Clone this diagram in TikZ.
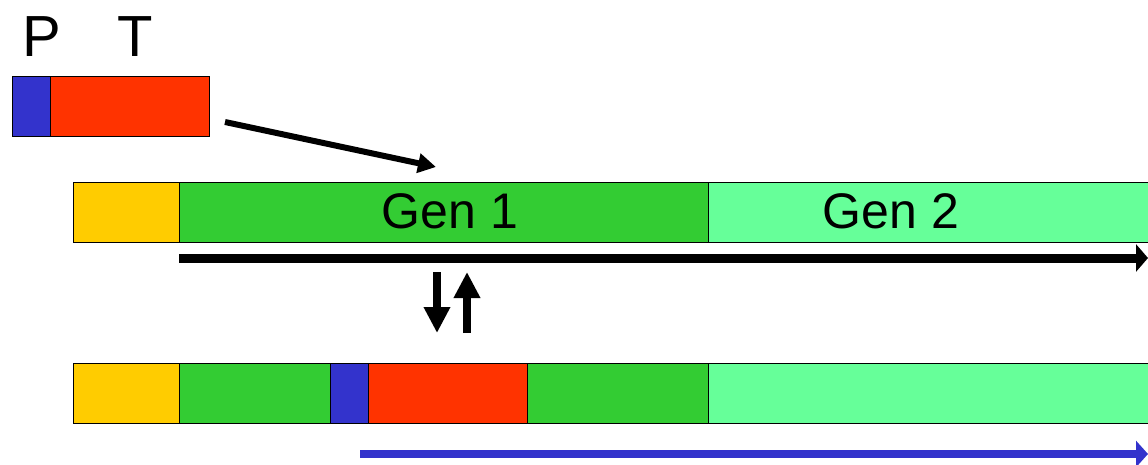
\documentclass[tikz,border=0pt]{standalone}
\usepackage{fontspec}
\setmainfont{Liberation Sans}
\usetikzlibrary{arrows.meta}
\definecolor{cyellow}{HTML}{FFCC00}
\definecolor{cgreen}{HTML}{33CC33}
\definecolor{clight}{HTML}{66FF99}
\definecolor{cred}{HTML}{FF3300}
\definecolor{cblue}{HTML}{3333CC}
\tikzset{
  seg/.style={draw=black, line width=1.4pt, inner sep=0pt, minimum height=60pt, anchor=north west},
  big/.style={font=\fontsize{50}{60}\selectfont, inner sep=0pt},
  huge/.style={font=\fontsize{58}{66}\selectfont, inner sep=0pt, anchor=base},
}
\begin{document}
\begin{tikzpicture}[x=1pt,y=-1pt]
\useasboundingbox (0,0) rectangle (1148,465);
% plasmid P T
\node[seg, fill=cred, minimum width=159pt] (tr) at (50,76) {};
\node[seg, fill=cblue, minimum width=38pt] (tp) at (12,76) {};
\node[huge] (lp) at (42,57) {P};
\node[huge] (lt) at (135,57) {T};
% row 1
\node[seg, fill=cyellow, minimum width=106pt] (y1) at (73,182) {};
\node[seg, fill=cgreen, minimum width=529pt] (g1) at (179,182) {};
\node[seg, fill=clight, minimum width=460pt] (h1) at (708,182) {};
\node[big] (t1) at (450,211) {Gen 1};
\node[big] (t2) at (891,211) {Gen 2};
% row 2
\node[seg, fill=cyellow, minimum width=106pt] (y2) at (73,363) {};
\node[seg, fill=cgreen, minimum width=151pt] (g2a) at (179,363) {};
\node[seg, fill=cblue, minimum width=38pt] (p2) at (330,363) {};
\node[seg, fill=cred, minimum width=159pt] (r2) at (368,363) {};
\node[seg, fill=cgreen, minimum width=181pt] (g2b) at (527,363) {};
\node[seg, fill=clight, minimum width=460pt] (h2) at (708,363) {};
% arrows
\coordinate (d1) at (225,122);
\coordinate (d2) at (436,167);
\draw[line width=6pt, -{Triangle[length=18pt,width=19pt]}] (d1) -- (d2);
\coordinate (a1) at (179,258);
\coordinate (a2) at (1148,258);
\draw[line width=9pt, -{Triangle[length=12pt,width=27pt]}] (a1) -- (a2);
\coordinate (b1) at (360,454);
\coordinate (b2) at (1148,454);
\draw[cblue, line width=8.5pt, -{Triangle[length=12pt,width=26pt]}] (b1) -- (b2);
\coordinate (u1) at (437,272);
\coordinate (u2) at (437,333);
\draw[line width=7.5pt, -{Triangle[length=26pt,width=25pt]}] (u1) -- (u2);
\coordinate (v1) at (467,333);
\coordinate (v2) at (467,272);
\draw[line width=7.5pt, -{Triangle[length=26pt,width=25pt]}] (v1) -- (v2);
\end{tikzpicture}
\end{document}
